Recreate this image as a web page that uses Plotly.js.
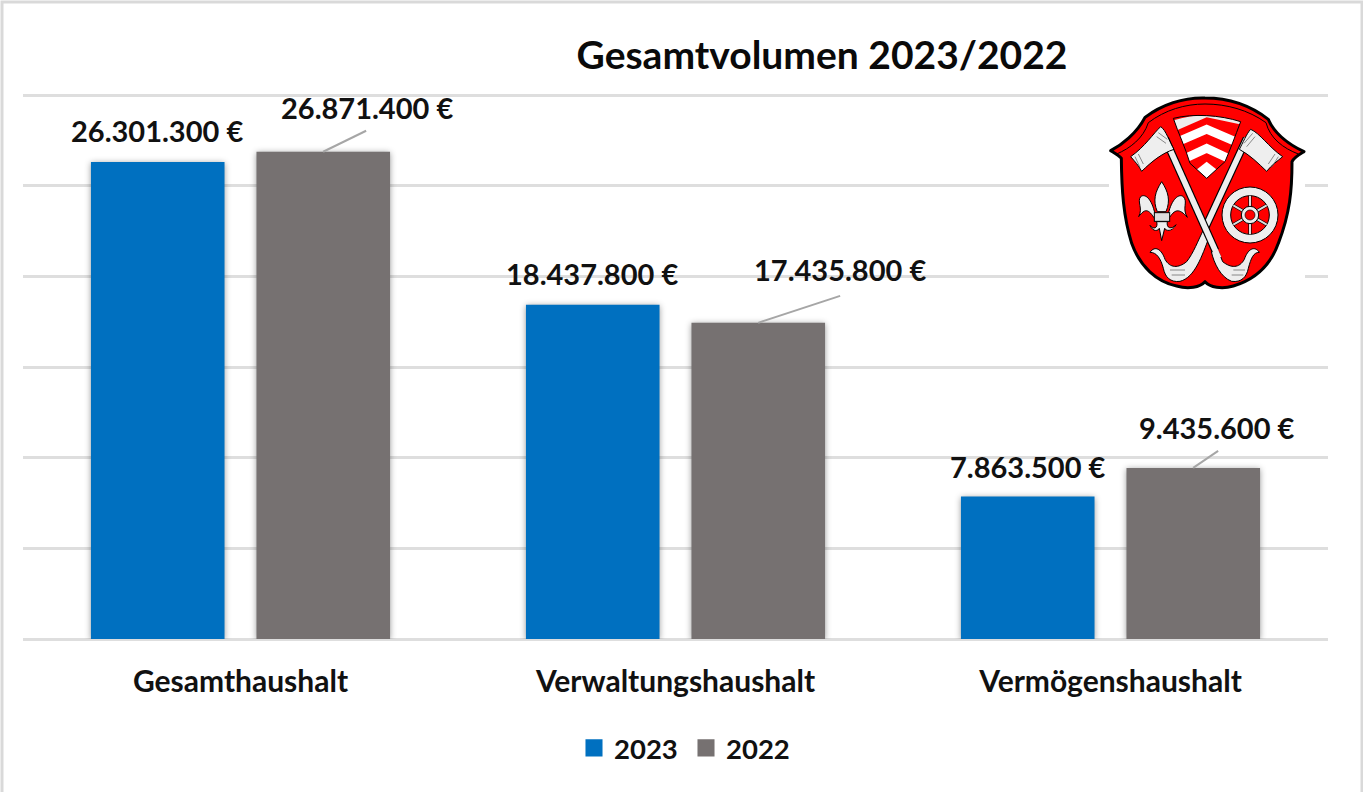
<!DOCTYPE html>
<html><head><meta charset="utf-8">
<script src="https://cdn.plot.ly/plotly-3.0.1.min.js"></script>
<style>
html,body{margin:0;padding:0;background:#fff;overflow:hidden}
.barlayer .point path{filter:drop-shadow(0 1px 3px rgba(0,0,0,.4))}
</style></head><body><div id="chart" style="width:1363px;height:792px"></div>
<script>
const categories=['Gesamthaushalt','Verwaltungshaushalt','Vermögenshaushalt'];
const values2023=[26301300,18437800,7863500];
const values2022=[26871400,17435800,9435600];
const seriesNames=['2023','2022'];
const colors=['#0070C0','#767171'];
const fontFam='Lato, Carlito, Calibri, sans-serif';
const fmt=v=>String(v).replace(/\B(?=(\d{3})+$)/g,'.')+' €';
const barOffset=0.19;

const chevronShield="M250,115 C310,100 390,105 452,125 C435,170 420,210 405,245 L350,295 L300,250 C285,200 265,160 250,115 Z";
const rightStave="M470,175 L345,445";
const leftStaveBlack="M225,175 L376,512";
const leftStaveWhite="M225,175 L386,534";
const hookL="M180,517 C195,495 215,508 225,538 C240,565 265,565 290,545 C310,520 325,480 340,450 L358,470 C335,530 315,592 270,604 C240,608 225,590 220,565 C212,535 200,517 180,517 Z";
const hookR="M508,517 C493,495 473,508 463,538 C448,565 423,565 398,545 L386,515 L364,515 C372,550 392,592 425,604 C455,608 470,590 475,565 C483,535 490,517 508,517 Z";
const emblemSvg=`<svg xmlns="http://www.w3.org/2000/svg" viewBox="0 0 720 690" width="720" height="690">
<defs><clipPath id="c"><path d="${chevronShield}"/></clipPath></defs>
<rect x="57" y="51" width="588" height="590" fill="#fff"/>
<path d="M62,212 C95,195 140,160 165,112 C215,75 280,52 345,54 C420,54 480,75 535,118 C555,165 600,195 642,215 C625,225 612,232 606,245 C606,330 600,400 565,490 C540,560 490,600 430,618 C395,628 360,622 345,605 C330,622 295,628 260,618 C200,605 150,560 125,490 C100,410 95,330 94,235 C85,225 75,220 62,212 Z" fill="#f00" stroke="#000" stroke-width="9" stroke-linejoin="round"/>
<path d="M80,222 C120,205 160,175 175,128 C225,90 285,72 345,72 C410,72 475,90 528,128 C540,175 580,205 625,222" fill="none" stroke="#000" stroke-width="3"/>
<g clip-path="url(#c)"><rect x="240" y="95" width="220" height="205" fill="#f00"/>
<path d="M240,125 Q350,85 460,125 L460,135 L350,112 L240,160 Z" fill="#eee"/>
<path d="M240,195 L350,148 L460,195" fill="none" stroke="#fff" stroke-width="26"/>
<path d="M240,256 L350,205 L460,256" fill="none" stroke="#fff" stroke-width="26"/>
<path d="M280,300 L350,245 L420,300 Z" fill="#fff"/></g>
<path d="${chevronShield}" fill="none" stroke="#000" stroke-width="3"/>
<g fill="none" stroke-linecap="butt">
<path d="${rightStave}" stroke="#000" stroke-width="24"/>
<path d="${rightStave}" stroke="#eee" stroke-width="17"/>
<path d="${hookL}" fill="#eee" stroke="#000" stroke-width="3"/>
<path d="${leftStaveBlack}" stroke="#000" stroke-width="24"/>
<path d="${hookR}" fill="#eee" stroke="#000" stroke-width="3"/>
<path d="${leftStaveWhite}" stroke="#eee" stroke-width="17"/>
</g>
<path d="M122,230 C165,200 190,160 212,140 C228,150 238,185 252,208 C215,220 185,245 155,274 C145,255 135,245 122,230 Z" fill="#eee" stroke="#000" stroke-width="3"/>
<path d="M578,230 C535,200 510,160 482,148 C470,160 458,190 448,208 C480,225 505,250 530,274 C545,255 560,245 578,230 Z" fill="#eee" stroke="#000" stroke-width="3"/>
<path d="M135,230 L150,262 M145,222 L160,252 M200,170 L228,190 M205,158 L232,178 M565,230 L545,262 M555,222 L535,252 M488,160 L462,190 M495,170 L470,200 M240,570 L285,570 M245,585 L285,585 M430,570 L465,570 M425,585 L460,585" stroke="#555" stroke-width="2" fill="none"/>
<g fill="#eee" stroke="#000" stroke-width="3">
<path d="M215,305 C235,335 242,362 228,395 L202,395 C188,362 195,335 215,305 Z"/>
<path d="M195,402 C185,355 165,340 152,350 C140,365 160,385 146,410 C165,385 175,385 195,418 Z"/>
<path d="M235,402 C245,355 268,340 280,350 C295,365 275,385 292,412 C268,385 255,385 235,418 Z"/>
<path d="M200,425 C205,445 190,450 180,436 C190,458 205,452 208,445 L215,482 L224,445 C227,452 245,458 258,434 C245,450 228,445 232,425 Z"/>
<rect x="193" y="398" width="46" height="26" fill="#ddd"/>
</g>
<circle cx="480" cy="405" r="84" fill="#eee" stroke="#000" stroke-width="3"/>
<circle cx="480" cy="405" r="58" fill="#f00" stroke="#000" stroke-width="3"/>
<g stroke="#000" stroke-width="10"><path d="M480,347 V463 M430,376 L530,434 M530,376 L430,434"/></g>
<g stroke="#ddd" stroke-width="6"><path d="M480,347 V463 M430,376 L530,434 M530,376 L430,434"/></g>
<circle cx="480" cy="405" r="26" fill="#eee" stroke="#000" stroke-width="3"/>
<circle cx="480" cy="405" r="15" fill="#f00" stroke="#000" stroke-width="2"/>
</svg>`;

const W=1363,H=792,L=23,R=1328,T=91,B=639;
const yMax=30000000*(B-T)/544;
const labelFont={family:fontFam,size:29,color:'#111',weight:700};
const labelShift=[[-1,32],[44,44],[-1,31],[82,53],[0,30],[24,40]];
const leaders=[[43,21],[82,27],[25,17]];
const annotations=[];
const shapes=[{type:'rect',xref:'paper',yref:'paper',x0:(2-L)/(R-L),x1:(1362-L)/(R-L),y0:(B-830)/(B-T),y1:(B-2)/(B-T),line:{color:'#d9d9d9',width:3},layer:'below'}];
categories.forEach((c,i)=>{
  [[values2023[i],-barOffset],[values2022[i],barOffset]].forEach(([v,off],s)=>{
    const sh=labelShift[i*2+s];
    annotations.push({x:i+off,y:v,xref:'x',yref:'y',text:fmt(v),showarrow:false,xanchor:'center',yanchor:'middle',xshift:sh[0],yshift:sh[1],font:labelFont});
  });
  const ld=leaders[i];
  shapes.push({type:'line',xref:'x',yref:'y',xsizemode:'pixel',ysizemode:'pixel',xanchor:i+barOffset,yanchor:values2022[i],x0:0,y0:0,x1:ld[0],y1:ld[1],line:{color:'#a6a6a6',width:2}});
});
const traces=[values2023,values2022].map((vals,s)=>({type:'bar',name:seriesNames[s],x:categories,y:vals,marker:{color:colors[s]},hoverinfo:'x+y'}));
const layout={
  width:W,height:H,paper_bgcolor:'#fff',plot_bgcolor:'#fff',
  margin:{l:L,r:W-R,t:T,b:H-B,pad:0},
  barmode:'group',bargap:0.239,bargroupgap:0.193,
  title:{text:'Gesamtvolumen 2023/2022',x:822/W,xref:'container',xanchor:'center',y:1-55/H,yref:'container',yanchor:'middle',font:{family:fontFam,size:39,color:'#0a0a0a',weight:700}},
  xaxis:{type:'category',showgrid:false,zeroline:false,showline:false,ticks:'outside',ticklen:16,tickcolor:'rgba(0,0,0,0)',tickfont:{family:fontFam,size:30,color:'#111',weight:700},automargin:false},
  yaxis:{range:[0,yMax],tick0:0,dtick:5000000,showticklabels:false,ticks:'',gridcolor:'#dedede',gridwidth:2.5,zeroline:true,zerolinecolor:'#dedede',zerolinewidth:2.5,showline:false,automargin:false},
  legend:{orientation:'h',x:(686-L)/(R-L),xanchor:'center',y:(B-748)/(B-T),yanchor:'middle',entrywidth:67,entrywidthmode:'pixels',font:{family:fontFam,size:27.5,color:'#111',weight:700},itemclick:false,itemdoubleclick:false},
  annotations,shapes,
  images:[{source:'data:image/svg+xml;charset=utf-8,'+encodeURIComponent(emblemSvg),xref:'paper',yref:'paper',x:(1090-L)/(R-L),y:(B-80)/(B-T),sizex:240/(R-L),sizey:230/(B-T),xanchor:'left',yanchor:'top',sizing:'stretch',layer:'above'}]
};
function fixSwatches(){document.querySelectorAll('.legendpoints path').forEach(p=>{const t=p.getAttribute('transform')||'';if(!/scale/.test(t))p.setAttribute('transform',t+' scale(1.42)');});}
Plotly.newPlot('chart',traces,layout,{displayModeBar:false,responsive:false}).then(()=>{
  fixSwatches();
  document.getElementById('chart').on('plotly_afterplot',fixSwatches);
  requestAnimationFrame(fixSwatches);
});
</script></body></html>
